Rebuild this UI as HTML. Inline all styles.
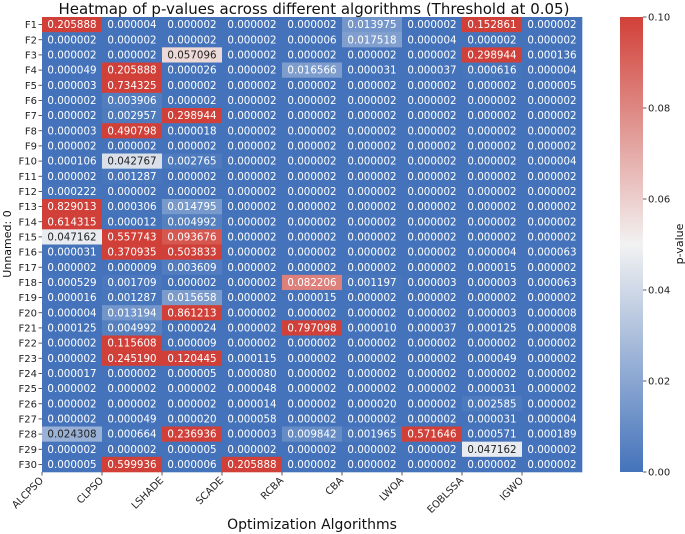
<!DOCTYPE html>
<html><head><meta charset="utf-8"><style>
body{margin:0;background:#fff;}
svg{display:block;font-family:"DejaVu Sans","Liberation Sans",sans-serif;}
</style></head><body>
<svg id="chart" width="685" height="534" viewBox="0 0 685 534">
<text x="314" y="14" text-anchor="middle" font-size="15" fill="#111">Heatmap of p-values across different algorithms (Threshold at 0.05)</text>
<g id="cells"></g>
<g id="axes"></g>
<defs><linearGradient id="cbg" x1="0" y1="1" x2="0" y2="0">
<stop offset="0" stop-color="rgb(68,115,187)"/><stop offset="0.5" stop-color="rgb(242,242,242)"/><stop offset="1" stop-color="rgb(209,64,56)"/></linearGradient></defs>
<rect x="620" y="17" width="23" height="455" fill="url(#cbg)"/>
<g id="cbticks"></g>
<text transform="translate(683,244) rotate(-90)" text-anchor="middle" font-size="11" fill="#111">p-value</text>
<text x="312" y="529" text-anchor="middle" font-size="14" fill="#111">Optimization Algorithms</text>
<text transform="translate(11,244) rotate(-90)" text-anchor="middle" font-size="11" fill="#111">Unnamed: 0</text>
</svg>
<script>
const algorithms=["ALCPSO","CLPSO","LSHADE","SCADE","RCBA","CBA","LWOA","EOBLSSA","IGWO"];
const functions=Array.from({length:30},(_,i)=>"F"+(i+1));
const pvalues=[
[0.205888,0.000004,0.000002,0.000002,0.000002,0.013975,0.000002,0.152861,0.000002],
[0.000002,0.000002,0.000002,0.000002,0.000006,0.017518,0.000004,0.000002,0.000002],
[0.000002,0.000002,0.057096,0.000002,0.000002,0.000002,0.000002,0.298944,0.000136],
[0.000049,0.205888,0.000026,0.000002,0.016566,0.000031,0.000037,0.000616,0.000004],
[0.000003,0.734325,0.000002,0.000002,0.000002,0.000002,0.000002,0.000002,0.000005],
[0.000002,0.003906,0.000002,0.000002,0.000002,0.000002,0.000002,0.000002,0.000002],
[0.000002,0.002957,0.298944,0.000002,0.000002,0.000002,0.000002,0.000002,0.000002],
[0.000003,0.490798,0.000018,0.000002,0.000002,0.000002,0.000002,0.000002,0.000002],
[0.000002,0.000002,0.000002,0.000002,0.000002,0.000002,0.000002,0.000002,0.000002],
[0.000106,0.042767,0.002765,0.000002,0.000002,0.000002,0.000002,0.000002,0.000004],
[0.000002,0.001287,0.000002,0.000002,0.000002,0.000002,0.000002,0.000002,0.000002],
[0.000222,0.000002,0.000002,0.000002,0.000002,0.000002,0.000002,0.000002,0.000002],
[0.829013,0.000306,0.014795,0.000002,0.000002,0.000002,0.000002,0.000002,0.000002],
[0.614315,0.000012,0.004992,0.000002,0.000002,0.000002,0.000002,0.000002,0.000002],
[0.047162,0.557743,0.093676,0.000002,0.000002,0.000002,0.000002,0.000002,0.000002],
[0.000031,0.370935,0.503833,0.000002,0.000002,0.000002,0.000002,0.000004,0.000063],
[0.000002,0.000009,0.003609,0.000002,0.000002,0.000002,0.000002,0.000015,0.000002],
[0.000529,0.001709,0.000002,0.000002,0.082206,0.001197,0.000003,0.000003,0.000063],
[0.000016,0.001287,0.015658,0.000002,0.000015,0.000002,0.000002,0.000002,0.000002],
[0.000004,0.013194,0.861213,0.000002,0.000002,0.000002,0.000002,0.000003,0.000008],
[0.000125,0.004992,0.000024,0.000002,0.797098,0.000010,0.000037,0.000125,0.000008],
[0.000002,0.115608,0.000009,0.000002,0.000002,0.000002,0.000002,0.000002,0.000002],
[0.000002,0.245190,0.120445,0.000115,0.000002,0.000002,0.000002,0.000049,0.000002],
[0.000017,0.000002,0.000005,0.000080,0.000002,0.000002,0.000002,0.000002,0.000002],
[0.000002,0.000002,0.000002,0.000048,0.000002,0.000002,0.000002,0.000031,0.000002],
[0.000002,0.000002,0.000002,0.000014,0.000002,0.000020,0.000002,0.002585,0.000002],
[0.000002,0.000049,0.000020,0.000058,0.000002,0.000002,0.000002,0.000031,0.000004],
[0.024308,0.000664,0.236936,0.000003,0.009842,0.001965,0.571646,0.000571,0.000189],
[0.000002,0.000002,0.000005,0.000002,0.000002,0.000002,0.000002,0.047162,0.000002],
[0.000005,0.599936,0.000006,0.205888,0.000002,0.000002,0.000002,0.000002,0.000002]];
const cbTicks=[0,0.02,0.04,0.06,0.08,0.10];
const NS="http://www.w3.org/2000/svg";
const L=42,R=582,T=17,B=472,VMAX=0.1;
const cw=(R-L)/algorithms.length, rh=(B-T)/functions.length;
const xPos=i=>L+i*cw, yPos=j=>T+j*rh;
const lo=[68,115,187],mid=[242,242,242],hi=[209,64,56];
function color(v){let t=Math.min(Math.max(v/VMAX,0),1);let a,b,u;
 if(t<0.5){a=lo;b=mid;u=t*2}else{a=mid;b=hi;u=(t-0.5)*2}
 const c=a.map((x,k)=>Math.round(x+(b[k]-x)*u));return c;}
function el(tag,attrs,parent){const e=document.createElementNS(NS,tag);for(const k in attrs)e.setAttribute(k,attrs[k]);parent.appendChild(e);return e;}
const cells=document.getElementById('cells'), axes=document.getElementById('axes');
pvalues.forEach((row,j)=>row.forEach((v,i)=>{
 const c=color(v);
 const r=el('rect',{x:xPos(i),y:yPos(j),width:cw+0.3,height:rh+0.3,fill:`rgb(${c})`},cells);
 
 
 const lum=0.299*c[0]+0.587*c[1]+0.114*c[2];
 const t=el('text',{x:xPos(i)+cw/2,y:yPos(j)+rh/2+3.6,'text-anchor':'middle','font-size':'10.3',fill:lum>160?'#222':'#fff'},cells);
 
 
 t.textContent=v.toFixed(6);
}));
functions.forEach((f,j)=>{
 const y=yPos(j)+rh/2;
 el('line',{x1:L-3.5,x2:L,y1:y,y2:y,stroke:'#333','stroke-width':0.8},axes);
 const t=el('text',{x:L-5,y:y+3.6,'text-anchor':'end','font-size':'10',fill:'#222'},axes);
 
 
 t.textContent=f;
});
algorithms.forEach((a,i)=>{
 const x=xPos(i);
 el('line',{x1:x,x2:x,y1:B,y2:B+3.5,stroke:'#333','stroke-width':0.8},axes);
 const t=el('text',{transform:`translate(${x+2},${B+9}) rotate(-45)`,'text-anchor':'end','font-size':'10',fill:'#222'},axes);
 
 
 t.textContent=a;
});
const cbt=document.getElementById('cbticks');
cbTicks.forEach(v=>{
 const y=B-(v/VMAX)*(B-T);
 el('line',{x1:643,x2:646.5,y1:y,y2:y,stroke:'#333','stroke-width':0.8},cbt);
 const t=el('text',{x:648,y:y+3.6,'font-size':'10',fill:'#222'},cbt);
 
 
 t.textContent=v.toFixed(2);
});
</script>
</body></html>
